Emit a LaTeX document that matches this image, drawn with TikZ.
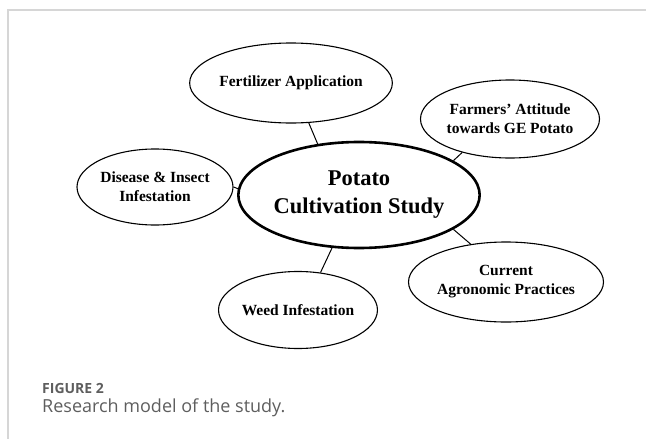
\documentclass[tikz,border=0pt]{standalone}
\usepackage{fontspec}
\setmainfont{Liberation Serif}
\newfontfamily\capfont{Open Sans}
\usepackage{tikz}
\usetikzlibrary{positioning,shapes.geometric}

\definecolor{framegray}{HTML}{D6D6D6}
\definecolor{capgray}{HTML}{5E5E5E}

\begin{document}
\begin{tikzpicture}[x=1pt, y=-1pt,
    topic/.style={ellipse, draw, line width=1.1pt, inner sep=0pt, align=center,
      font=\bfseries\fontsize{15.5}{19}\selectfont},
    core/.style={ellipse, draw, line width=2.6pt, inner sep=0pt, align=center,
      minimum width=208pt, minimum height=106pt,
      font=\bfseries\fontsize{22.5}{28}\selectfont},
    link/.style={line width=1pt}]
  \useasboundingbox (0,0) rectangle (646,439);

  % Cadre
  \draw[framegray, line width=1.4pt] (8,439) -- (8,10) -- (646,10);

  % Noeud central
  \node[core] (core) at (359,195) {Potato\\Cultivation Study};

  % Themes autour
  \node[topic, minimum width=172pt, minimum height=80pt] (fert) at (291,83) {Fertilizer Application};
  \node[topic, minimum width=160pt, minimum height=78pt] (attitude) at (510,119) {Farmers' Attitude\\towards GE Potato};
  \node[topic, minimum width=156pt, minimum height=76pt] (disease) at (155,187) {Disease \& Insect\\Infestation};
  \node[topic, minimum width=156pt, minimum height=80pt] (agro) at (506,282) {Current\\Agronomic Practices};
  \node[topic, minimum width=153pt, minimum height=77pt] (weed) at (298,310) {Weed Infestation};

  % Liaisons
  \draw[link] (fert.-66) -- (core.129);
  \draw[link] (attitude.215) -- (core.20);
  \draw[link] (disease.0) -- (core.177);
  \draw[link] (agro.133) -- (core.-20);
  \draw[link] (weed.59) -- (core.-117);

  % Legende
  \node[anchor=base west, inner sep=0pt, text=capgray, font=\capfont\bfseries\fontsize{14}{16}\selectfont] (figno) at (42,393) {FIGURE 2};
  \node[anchor=base west, inner sep=0pt, text=capgray, font=\capfont\fontsize{18}{21}\selectfont] (figcap) at (42,412) {Research model of the study.};
\end{tikzpicture}
\end{document}
